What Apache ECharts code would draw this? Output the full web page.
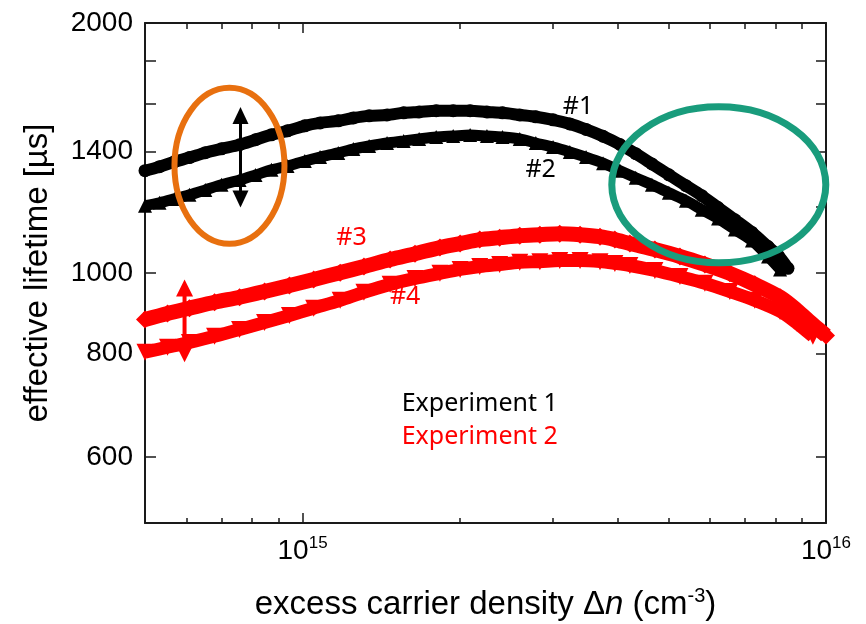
<!DOCTYPE html>
<html><head><meta charset="utf-8">
<script src="https://cdn.jsdelivr.net/npm/echarts@6/dist/echarts.min.js"></script>
<style>html,body{margin:0;padding:0;background:#fff}#c{width:866px;height:624px}</style>
</head><body><div id="c"></div>
<script>
// ---- data ----
const s1X = [5.0e14,5.33e14,5.69e14,6.08e14,6.52e14,7.00e14,7.58e14,8.13e14,8.72e14,9.36e14,
  1.01e15,1.08e15,1.17e15,1.25e15,1.34e15,1.45e15,1.56e15,1.67e15,1.80e15,1.94e15,
  2.09e15,2.25e15,2.41e15,2.60e15,2.79e15,3.01e15,3.24e15,3.48e15,3.75e15,4.04e15,
  4.33e15,4.65e15,5.01e15,5.40e15,5.79e15,6.22e15,6.70e15,7.22e15,7.75e15,8.10e15,8.46e15];
const s1Y = [1328,1343,1361,1377,1396,1411,1427,1447,1467,1483,
  1504,1516,1525,1537,1546,1550,1559,1563,1568,1568,
  1568,1563,1559,1550,1542,1529,1512,1489,1461,1428,
  1392,1353,1313,1274,1239,1199,1159,1119,1076,1050,1013];
const s2X = [5.0e14,5.33e14,5.69e14,6.08e14,6.52e14,7.00e14,7.58e14,8.13e14,8.72e14,9.36e14,
  1.01e15,1.08e15,1.17e15,1.25e15,1.34e15,1.45e15,1.56e15,1.67e15,1.80e15,1.94e15,
  2.09e15,2.25e15,2.41e15,2.60e15,2.79e15,3.01e15,3.24e15,3.48e15,3.75e15,4.04e15,
  4.33e15,4.65e15,5.01e15,5.40e15,5.79e15,6.22e15,6.70e15,7.22e15,7.75e15,8.17e15];
const s2Y = [1205,1215,1228,1242,1259,1277,1294,1312,1331,1345,
  1364,1379,1395,1410,1422,1434,1442,1450,1458,1462,
  1466,1462,1458,1450,1434,1418,1399,1379,1356,1328,
  1302,1277,1249,1222,1192,1163,1128,1094,1047,1010];
const s3X = [5.00e14,5.52e14,6.08e14,6.79e14,7.58e14,8.46e14,9.44e14,1.05e15,1.18e15,1.31e15,
  1.47e15,1.64e15,1.83e15,2.00e15,2.18e15,2.38e15,2.60e15,2.84e15,3.10e15,3.39e15,
  3.70e15,3.95e15,4.22e15,4.71e15,5.26e15,5.87e15,6.55e15,7.31e15,8.17e15,8.80e15,9.44e15,1.0e16];
const s3Y = [879,894,907,922,935,950,966,982,1001,1018,
  1038,1055,1073,1085,1097,1103,1109,1112,1115,1112,
  1106,1097,1085,1067,1047,1024,999,969,935,902,867,841];
const s4X = [5.00e14,5.52e14,6.08e14,6.79e14,7.58e14,8.46e14,9.44e14,1.05e15,1.18e15,1.31e15,
  1.47e15,1.64e15,1.83e15,2.00e15,2.18e15,2.38e15,2.60e15,2.84e15,3.10e15,3.39e15,
  3.70e15,3.95e15,4.22e15,4.71e15,5.26e15,5.87e15,6.55e15,7.31e15,8.17e15,8.80e15,9.44e15];
const s4Y = [803,814,825,839,855,872,889,907,927,948,
  969,985,999,1010,1018,1024,1030,1032,1035,1035,
  1032,1027,1021,1007,990,972,950,927,899,870,839];

const xMajorTicks = [1e15, 1e16];
const xMinorTicks = [6e14,7e14,8e14,9e14,2e15,3e15,4e15,5e15,6e15,7e15,8e15,9e15];
const yTicks = [600,800,1000,1200,1400,1600,1800,2000];
const yLabels = [600,800,1000,1400,2000];
const seriesNames = ['#1','#2','#3','#4'];
const experimentLabels = ['Experiment 1','Experiment 2'];

const FONT = 'Liberation Sans';
const AX = '#1a1a1a';
const chart = echarts.init(document.getElementById('c'), null, {renderer:'canvas'});

function pts(xs, ys){ return xs.map((x,i)=>[x, ys[i]]); }
function xAxisBase(pos){
  return {type:'log', logBase:10, min:5e14, max:1e16, position:pos, gridIndex:0,
    splitLine:{show:false}, minorTick:{show:false}, minorSplitLine:{show:false}};
}
const option = {
  animation:false,
  backgroundColor:'#fff',
  grid:{left:145, right:40, top:23, bottom:101, containLabel:false, outerBoundsMode:'none'},
  xAxis:[
    Object.assign(xAxisBase('bottom'), {
      axisLine:{show:true, onZero:false, lineStyle:{color:AX, width:2}},
      axisTick:{show:true, inside:true, length:10, customValues:xMajorTicks, lineStyle:{color:AX, width:1.5}},
      axisLabel:{show:true, customValues:xMajorTicks, margin:12,
        formatter:v=>'{b|10}{s|'+Math.round(Math.log10(v))+'}',
        rich:{b:{fontSize:28, fontFamily:FONT, color:'#000', lineHeight:32},
              s:{fontSize:17, fontFamily:FONT, color:'#000', lineHeight:14, verticalAlign:'top'}}},
      name:'{t|excess carrier density Δ}{i|n}{t| (cm}{s|-3}{t|)}',
      nameLocation:'middle', nameGap:63,
      nameTextStyle:{rich:{
        t:{fontSize:33, fontFamily:FONT, color:'#000', lineHeight:38},
        i:{fontSize:33, fontFamily:FONT, fontStyle:'italic', color:'#000', lineHeight:38},
        s:{fontSize:20, fontFamily:FONT, color:'#000', lineHeight:18, verticalAlign:'top'}}}
    }),
    Object.assign(xAxisBase('bottom'), {
      axisLine:{show:false},
      axisTick:{show:true, inside:true, length:5, customValues:xMinorTicks, lineStyle:{color:AX, width:1.5}},
      axisLabel:{show:false}
    }),
    Object.assign(xAxisBase('top'), {
      axisLine:{show:true, onZero:false, lineStyle:{color:AX, width:2}},
      axisTick:{show:true, inside:true, length:10, customValues:xMajorTicks, lineStyle:{color:AX, width:1.5}},
      axisLabel:{show:false}
    }),
    Object.assign(xAxisBase('top'), {
      axisLine:{show:false},
      axisTick:{show:true, inside:true, length:6, customValues:xMinorTicks, lineStyle:{color:AX, width:1.5}},
      axisLabel:{show:false}
    })
  ],
  yAxis:[
    {type:'log', logBase:10, min:500, max:2000, position:'left',
      splitLine:{show:false}, minorTick:{show:false},
      axisLine:{show:true, onZero:false, lineStyle:{color:AX, width:2}},
      axisTick:{show:true, inside:true, length:11, customValues:yTicks, lineStyle:{color:AX, width:1.5}},
      axisLabel:{show:true, customValues:yLabels, margin:12, fontSize:28, fontFamily:FONT, color:'#000',
        formatter:v=>String(Math.round(v))},
      name:'effective lifetime [µs]', nameLocation:'middle', nameGap:91,
      nameTextStyle:{fontSize:33, fontFamily:FONT, color:'#000'}},
    {type:'log', logBase:10, min:500, max:2000, position:'right',
      splitLine:{show:false}, minorTick:{show:false},
      axisLine:{show:true, onZero:false, lineStyle:{color:AX, width:2}},
      axisTick:{show:true, inside:true, length:10, customValues:yTicks, lineStyle:{color:AX, width:1.5}},
      axisLabel:{show:false}}
  ],
  series:[
    {name:seriesNames[0], type:'line', xAxisIndex:0, yAxisIndex:0, data:pts(s1X,s1Y), smooth:0.3,
      symbol:'circle', symbolSize:13, showAllSymbol:true, itemStyle:{color:'#000'}, lineStyle:{color:'#000', width:12}, z:4},
    {name:seriesNames[1], type:'line', xAxisIndex:0, yAxisIndex:0, data:pts(s2X,s2Y), smooth:0.3,
      symbol:'triangle', symbolSize:14, showAllSymbol:true, itemStyle:{color:'#000'}, lineStyle:{color:'#000', width:11}, z:4},
    {name:seriesNames[2], type:'line', xAxisIndex:0, yAxisIndex:0, data:pts(s3X,s3Y), smooth:0.3,
      symbol:'diamond', symbolSize:18, showAllSymbol:true, itemStyle:{color:'#ff0000'}, lineStyle:{color:'#ff0000', width:15}, z:3},
    {name:seriesNames[3], type:'line', xAxisIndex:0, yAxisIndex:0, data:pts(s4X,s4Y), smooth:0.3,
      symbol:'triangle', symbolRotate:180, symbolSize:17, showAllSymbol:true, itemStyle:{color:'#ff0000'}, lineStyle:{color:'#ff0000', width:13}, z:3}
  ]
};
chart.setOption(option);

// ---- annotations anchored in data coordinates ----
function px(x, y){ return chart.convertToPixel({xAxisIndex:0, yAxisIndex:0}, [x, y]); }
function arrow(x, yTop, yBot, color, shaftW, headW, headH){
  const a = px(x, yTop), b = px(x, yBot);
  const cx = a[0];
  return [
    {type:'line', shape:{x1:cx, y1:a[1]+headH-2, x2:cx, y2:b[1]-headH+2}, style:{stroke:color, lineWidth:shaftW}, z:10},
    {type:'polygon', shape:{points:[[cx,a[1]],[cx-headW/2,a[1]+headH],[cx+headW/2,a[1]+headH]]}, style:{fill:color}, z:10},
    {type:'polygon', shape:{points:[[cx,b[1]],[cx-headW/2,b[1]-headH],[cx+headW/2,b[1]-headH]]}, style:{fill:color}, z:10}
  ];
}
function label(x, y, text, color){
  const p = px(x, y);
  return {type:'text', x:p[0], y:p[1], z:10,
    style:{text:text, fill:color, font:'25px "Noto Sans"', align:'center', verticalAlign:'middle'}};
}
const oC = px(7.25e14, 1346), tC = px(6.24e15, 1277);
const g = [
  {type:'ellipse', shape:{cx:oC[0], cy:oC[1], rx:55, ry:78}, style:{fill:null, stroke:'#E8700F', lineWidth:6}, z:9},
  {type:'ellipse', shape:{cx:tC[0], cy:tC[1], rx:107, ry:78}, style:{fill:null, stroke:'#199C7C', lineWidth:7}, z:9}
].concat(
  arrow(7.61e14, 1584, 1199, '#000', 3, 16, 17),
  arrow(5.95e14, 982, 781, '#ff0000', 4, 17, 17),
  [label(3.36e15, 1584, seriesNames[0], '#000'),
   label(2.85e15, 1331, seriesNames[1], '#000'),
   label(1.24e15, 1103, seriesNames[2], '#ff0000'),
   label(1.57e15, 937, seriesNames[3], '#ff0000'),
   label(2.18e15, 695, experimentLabels[0], '#000'),
   label(2.18e15, 634, experimentLabels[1], '#ff0000')]
);
chart.setOption({graphic:g});
</script></body></html>
